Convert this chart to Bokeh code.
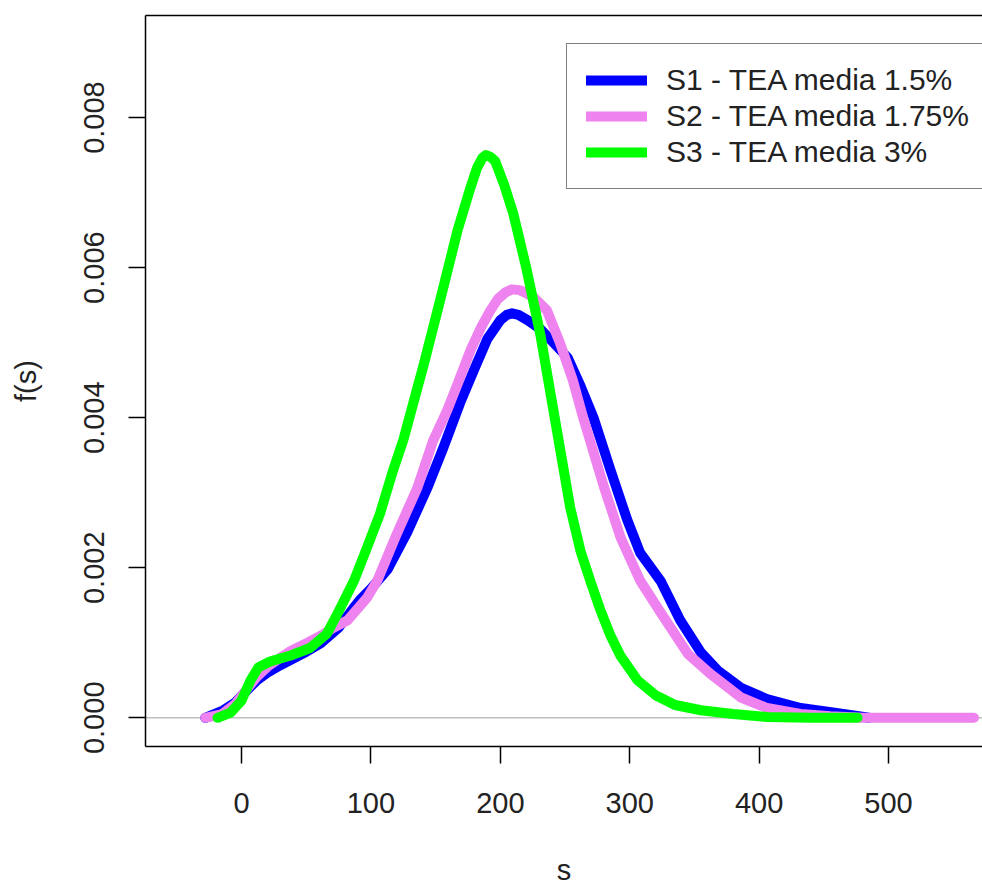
from bokeh.plotting import figure
from bokeh.models import Range1d, LinearAxis, FixedTicker, Span, Legend, LegendItem
from bokeh.embed import file_html
from bokeh.resources import INLINE

# ---- data ----
s1_s = [-28, -14, -5, 5, 12, 20, 30, 40, 50, 61, 75, 86, 92, 100, 113, 128, 144, 156, 169, 180, 190,
        200, 205, 209, 214, 221, 231, 241, 252, 262, 272, 285, 298, 308, 324, 339, 355, 368, 386,
        406, 432, 457, 485]
s1_f = [0.0, 0.0001, 0.0002, 0.00038, 0.0005, 0.0006, 0.0007, 0.00079, 0.00088, 0.00099, 0.0012,
        0.00145, 0.00158, 0.00172, 0.00198, 0.00247, 0.00308, 0.0036, 0.0042, 0.00465, 0.00505,
        0.0053, 0.00537, 0.00539, 0.00537, 0.0053, 0.00518, 0.005, 0.0048, 0.00442, 0.004,
        0.00331, 0.00264, 0.0022, 0.00182, 0.0013, 0.00087, 0.00063, 0.0004, 0.00025, 0.00013,
        0.00007, 0.0]

s2_s = [-28, -15, -5, 5, 12, 20, 30, 38, 51, 62, 71, 82, 97, 105, 120, 136, 148, 159, 167, 177,
        185, 192, 198, 204, 209, 215, 220, 226, 236, 246, 256, 264, 280, 293, 308, 324, 345, 362,
        386, 406, 432, 455, 480, 520, 566]
s2_f = [0.0, 0.00005, 0.00018, 0.0004, 0.00055, 0.00068, 0.0008, 0.00089, 0.001, 0.0011, 0.0012,
        0.0013, 0.0016, 0.00183, 0.00245, 0.00307, 0.00369, 0.0041, 0.00445, 0.0049, 0.0052,
        0.00542, 0.00558, 0.00567, 0.00571, 0.0057, 0.00566, 0.0056, 0.00543, 0.005, 0.0045,
        0.004, 0.00308, 0.0024, 0.00183, 0.0014, 0.00085, 0.00059, 0.00027, 0.00013, 0.00005,
        0.00002, 0.0, 0.0, 0.0]

s3_s = [-18.5, -8.5, 0, 7, 13, 22, 38, 53, 66, 76, 87, 97, 107, 117, 125, 141, 154, 167, 177, 182,
        186, 189, 192, 196, 203, 210, 220, 231, 240, 246, 254, 262, 270, 277, 285, 293, 306, 320,
        335, 355, 380, 406, 440, 476]
s3_f = [0.0, 0.00007, 0.00023, 0.0005, 0.00067, 0.00075, 0.00083, 0.00093, 0.00112, 0.00145,
        0.00183, 0.00227, 0.00272, 0.00329, 0.0037, 0.00472, 0.0056, 0.0065, 0.00707, 0.00733,
        0.00746, 0.0075, 0.00748, 0.00742, 0.0071, 0.00672, 0.006, 0.0051, 0.0042, 0.0036,
        0.0028, 0.00222, 0.0018, 0.00145, 0.0011, 0.00082, 0.0005, 0.0003, 0.00017, 0.0001,
        0.00005, 0.00001, 0.0, 0.0]

series_names = ["S1 - TEA media 1.5%", "S2 - TEA media 1.75%", "S3 - TEA media 3%"]
series_colors = ["#0000ff", "#ee82ee", "#00ff00"]

x_ticks = [0, 100, 200, 300, 400, 500]
y_ticks = [0.0, 0.002, 0.004, 0.006, 0.008]
y_tick_labels = ["0.000", "0.002", "0.004", "0.006", "0.008"]

FONT = "Liberation Sans"
TICK_FS = "29px"

p = figure(width=982, height=888, output_backend="svg", toolbar_location=None,
           x_range=Range1d(-74.2, 572.6), y_range=Range1d(-0.000383, 0.00936),
           min_border_left=145, min_border_right=0, min_border_top=15, min_border_bottom=142,
           x_axis_label="s", y_axis_label="f(s)")
p.grid.visible = False
p.outline_line_color = None
p.background_fill_color = "white"
p.border_fill_color = "white"

# zero line
p.add_layout(Span(location=0, dimension="width", line_color="#bebebe", line_width=1.5,
                  level="underlay"))

renderers = []
for xs, ys, col in zip([s1_s, s2_s, s3_s], [s1_f, s2_f, s3_f], series_colors):
    r = p.line(xs, ys, line_color=col, line_width=10, line_join="round", line_cap="round")
    renderers.append(r)

for ax in (p.xaxis[0], p.yaxis[0]):
    ax.major_tick_out = 17
    ax.major_tick_in = 0
    ax.minor_tick_out = 0
    ax.minor_tick_in = 0
    ax.axis_line_width = 1.5
    ax.axis_line_color = "black"
    ax.major_tick_line_width = 1.5
    ax.major_tick_line_color = "black"
    ax.major_label_text_font = FONT
    ax.major_label_text_font_size = TICK_FS
    ax.major_label_text_color = "#222222"
    ax.axis_label_text_font = FONT
    ax.axis_label_text_font_size = TICK_FS
    ax.axis_label_text_font_style = "normal"
    ax.axis_label_text_color = "#222222"

p.xaxis[0].ticker = FixedTicker(ticks=x_ticks)
p.xaxis[0].major_label_standoff = 29
p.xaxis[0].axis_label_standoff = 38

p.yaxis[0].ticker = FixedTicker(ticks=y_ticks)
p.yaxis[0].major_label_overrides = {t: l for t, l in zip(y_ticks, y_tick_labels)}
p.yaxis[0].major_label_orientation = "parallel"
p.yaxis[0].major_label_standoff = 24
p.yaxis[0].axis_label_standoff = 40

top = LinearAxis(ticker=FixedTicker(ticks=[]), major_tick_out=0, major_tick_in=0,
                 minor_tick_out=0, minor_tick_in=0, major_label_standoff=0,
                 axis_line_width=1.5, axis_line_color="black")
p.add_layout(top, "above")

legend = Legend(items=[LegendItem(label=n, renderers=[r]) for n, r in zip(series_names, renderers)],
                location=(421, 557), margin=0, padding=19, spacing=2,
                glyph_width=61, glyph_height=32, label_standoff=19,
                label_text_font=FONT, label_text_font_size="30px", label_text_color="#222222",
                border_line_color="black", border_line_width=1.5,
                background_fill_color="white", background_fill_alpha=1.0)
p.add_layout(legend, "center")

html = file_html(p, INLINE)
html = html.replace("<head>", "<head><style>html,body{overflow:hidden;}</style>", 1)
open("out.html", "w").write(html)
